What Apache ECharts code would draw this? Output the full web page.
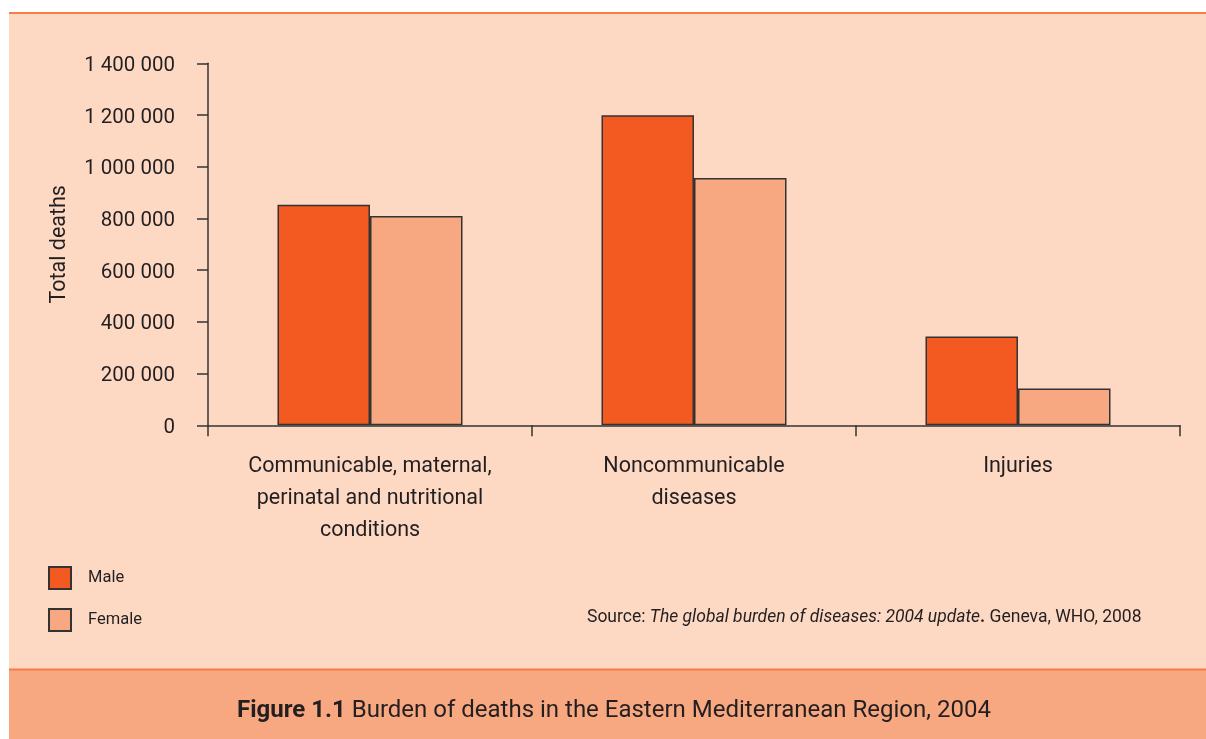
<!DOCTYPE html>
<html>
<head>
<meta charset="utf-8">
<script src="https://cdn.jsdelivr.net/npm/echarts@6/dist/echarts.min.js"></script>
<style>
html,body{margin:0;padding:0;background:#fff;}
#chart{width:1206px;height:739px;}
</style>
</head>
<body>
<div id="chart"></div>
<script>
var categories = ['Communicable, maternal,\nperinatal and nutritional\nconditions', 'Noncommunicable\ndiseases', 'Injuries'];
var maleValues = [853000, 1199000, 343000];
var femaleValues = [809000, 956000, 142000];
var yTicks = {min: 0, max: 1400000, interval: 200000};
var seriesNames = ['Male', 'Female'];

var FONT = 'Roboto';
var TXT = '#231F20';
var chart = echarts.init(document.getElementById('chart'), null, {renderer: 'canvas'});

function fmt(v) { return String(v).replace(/\B(?=(\d{3})+(?!\d))/g, ' '); }

var option = {
  backgroundColor: '#ffffff',
  animation: false,
  textStyle: {fontFamily: FONT, color: TXT},
  graphic: [
    {type: 'rect', z: -10, shape: {x: 9, y: 13, width: 1197, height: 657}, style: {fill: '#FDD9C4'}},
    {type: 'rect', z: -9, shape: {x: 9, y: 12, width: 1197, height: 2}, style: {fill: '#F47D4A'}},
    {type: 'rect', z: -9, shape: {x: 9, y: 669, width: 1197, height: 70}, style: {fill: '#F7A880'}},
    {type: 'rect', z: -8, shape: {x: 9, y: 668.5, width: 1197, height: 2}, style: {fill: '#F47D4A'}},
    {type: 'text', z: 10, x: 587, y: 618,
      style: {
        text: '{a|Source: }{b|The global burden of diseases: 2004 update}{c|.}{a| Geneva, WHO, 2008}',
        verticalAlign: 'middle',
        rich: {
          a: {fontFamily: FONT, fontSize: 17.5, fill: TXT, color: TXT},
          b: {fontFamily: FONT, fontSize: 17.5, fontStyle: 'italic', fill: TXT, color: TXT},
          c: {fontFamily: FONT, fontSize: 17.5, fontWeight: 'bold', fill: TXT, color: TXT}
        }
      }
    },
    {type: 'text', z: 10, x: 614, y: 711,
      style: {
        text: '{b|Figure 1.1}{a| Burden of deaths in the Eastern Mediterranean Region, 2004}',
        align: 'center', verticalAlign: 'middle',
        rich: {
          a: {fontFamily: FONT, fontSize: 24, fill: TXT, color: TXT},
          b: {fontFamily: FONT, fontSize: 24, fontWeight: 'bold', fill: TXT, color: TXT}
        }
      }
    }
  ],
  legend: {
    orient: 'vertical', left: 43, top: 561,
    itemWidth: 22, itemHeight: 22, itemGap: 18,
    icon: 'rect',
    data: seriesNames,
    textStyle: {fontFamily: FONT, fontSize: 16.5, color: TXT, padding: [0, 0, 0, 12]},
    selectedMode: false
  },
  grid: {left: 208, right: 26, top: 63.3, bottom: 739 - 425.3, containLabel: false},
  xAxis: {
    type: 'category',
    data: categories,
    axisLine: {lineStyle: {color: '#333', width: 1.5}},
    axisTick: {show: true, length: 11, lineStyle: {color: '#333', width: 1.5}},
    axisLabel: {fontFamily: FONT, fontSize: 21.5, color: TXT, lineHeight: 32, margin: 25, interval: 0}
  },
  yAxis: {
    type: 'value',
    min: yTicks.min, max: yTicks.max, interval: yTicks.interval,
    name: 'Total deaths',
    nameLocation: 'middle',
    nameGap: 137,
    nameRotate: 90,
    nameTextStyle: {fontFamily: FONT, fontSize: 21.5, color: TXT},
    axisLine: {show: true, lineStyle: {color: '#333', width: 1.5}},
    axisTick: {show: true, length: 11, lineStyle: {color: '#333', width: 1.5}},
    splitLine: {show: false},
    axisLabel: {fontFamily: FONT, fontSize: 20.5, color: TXT, margin: 33, formatter: fmt, verticalAlign: 'top', lineHeight: 5}
  },
  series: [
    {
      name: seriesNames[0], type: 'bar', data: maleValues,
      barWidth: 92.5, barGap: '0%',
      itemStyle: {color: '#F25A22', borderColor: '#333', borderWidth: 1.5}
    },
    {
      name: seriesNames[1], type: 'bar', data: femaleValues,
      barWidth: 92.5, barGap: '0%',
      itemStyle: {color: '#F7A880', borderColor: '#333', borderWidth: 1.5}
    }
  ]
};
chart.setOption(option);
</script>
</body>
</html>
